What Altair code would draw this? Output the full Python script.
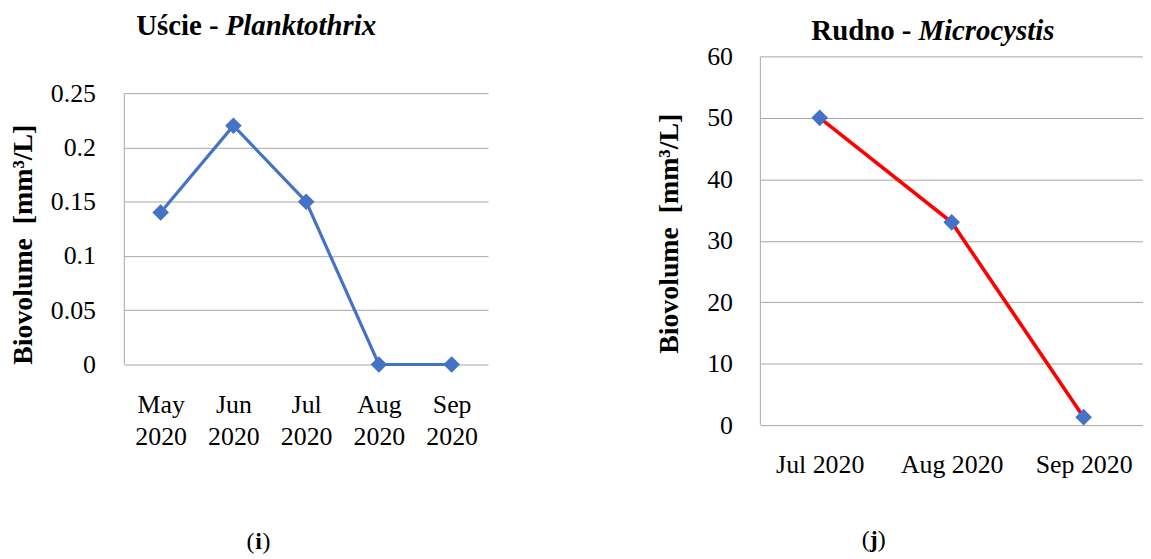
import altair as alt
import pandas as pd

# ---- data ----
left_months = ["May 2020", "Jun 2020", "Jul 2020", "Aug 2020", "Sep 2020"]
left_values = [0.14, 0.22, 0.15, 0.0, 0.0]
left_ticks = [0, 0.05, 0.1, 0.15, 0.2, 0.25]

right_months = ["Jul 2020", "Aug 2020", "Sep 2020"]
right_values = [50, 33, 1.3]
right_ticks = [0, 10, 20, 30, 40, 50, 60]

FONT = "Liberation Serif"
GRID = "#A6A6A6"
BLUE = "#4472C4"
RED = "#FF0000"
YTITLE = "Biovolume \u00a0[mm³/L]"


def text_mark(txt, x, y, size, weight="normal", style="normal", align="center"):
    return alt.Chart(pd.DataFrame({"t": [txt]})).mark_text(
        font=FONT, fontSize=size, fontWeight=weight, fontStyle=style,
        align=align, baseline="alphabetic", color="black"
    ).encode(x=alt.value(x), y=alt.value(y), text="t:N")


def yaxis(ticks, fmt, pad, tx, ty):
    return alt.Axis(values=ticks, format=fmt, grid=True, gridColor=GRID,
                    gridWidth=1, domain=False, ticks=False,
                    labelFont=FONT, labelFontSize=26, labelColor="black",
                    labelPadding=pad, title=YTITLE, titleFont=FONT,
                    titleFontSize=28, titleFontWeight="bold", titleColor="black",
                    titleX=tx, titleY=ty, titleBaseline="middle", titleAlign="center")


def axis_line(top, bottom):
    return alt.Chart(pd.DataFrame({"a": [0]})).mark_rule(color=GRID, strokeWidth=1).encode(
        x=alt.value(0), y=alt.datum(top), y2=alt.datum(bottom))


def build_left():
    W, H = 366, 310  # plot drawn from 37 to 310 (scale range)
    df = pd.DataFrame({"month": left_months, "value": left_values})
    x = alt.X("month:N", sort=left_months,
              axis=alt.Axis(title=None, domain=False, ticks=False, grid=False, labelAngle=0,
                            labelFont=FONT, labelFontSize=26, labelColor="black",
                            labelPadding=27, labelBaseline="top",
                            labelExpr="split(datum.label, ' ')", labelLineHeight=33))
    y = alt.Y("value:Q", scale=alt.Scale(domain=[0, 0.25], nice=False, range=[H, 37]),
              axis=yaxis(left_ticks, ".2~f", 29, -101, 189))
    base = alt.Chart(df).encode(x=x, y=y)
    line = base.mark_line(color=BLUE, strokeWidth=3.2)
    pts = base.mark_point(shape="diamond", filled=True, size=280, color=BLUE, opacity=1)
    t1 = text_mark("Uście -", 95, -22, 29, weight="bold", align="right")
    t2 = text_mark("Planktothrix", 102, -22, 29, weight="bold", style="italic", align="left")
    c1 = text_mark("(", 131, 496, 24, align="right")
    c2 = text_mark("i", 135, 496, 24, weight="bold")
    c3 = text_mark(")", 139, 496, 24, align="left")
    return alt.layer(axis_line(0.25, 0), line, pts, t1, t2, c1, c2, c3).properties(width=W, height=H)


def build_right():
    W, H = 385, 371
    df = pd.DataFrame({"month": right_months, "value": right_values})
    x = alt.X("month:N", sort=right_months, scale=alt.Scale(padding=0.45),
              axis=alt.Axis(title=None, domain=False, ticks=False, grid=False, labelAngle=0,
                            labelFont=FONT, labelFontSize=26, labelColor="black",
                            labelPadding=27, labelBaseline="top"))
    y = alt.Y("value:Q", scale=alt.Scale(domain=[0, 60], nice=False),
              axis=yaxis(right_ticks, "d", 28, -91, 178))
    base = alt.Chart(df).encode(x=x, y=y)
    line = base.mark_line(color=RED, strokeWidth=3.6)
    pts = base.mark_point(shape="diamond", filled=True, size=280, color=BLUE, opacity=1)
    t1 = text_mark("Rudno -", 152, -16, 29, weight="bold", align="right")
    t2 = text_mark("Microcystis", 159, -16, 29, weight="bold", style="italic", align="left")
    c1 = text_mark("(", 110, 494, 24, align="right")
    c2 = text_mark("j", 114, 494, 24, weight="bold")
    c3 = text_mark(")", 118, 494, 24, align="left")
    return alt.layer(axis_line(60, 0), line, pts, t1, t2, c1, c2, c3).properties(width=W, height=H)


chart = alt.hconcat(build_left(), build_right(), spacing=169).properties(
    padding={"left": 2, "top": 2, "right": 0, "bottom": 0}
).configure(background="white").configure_view(stroke=None)

chart.save("out.html", embed_options={"renderer": "svg", "actions": False})
